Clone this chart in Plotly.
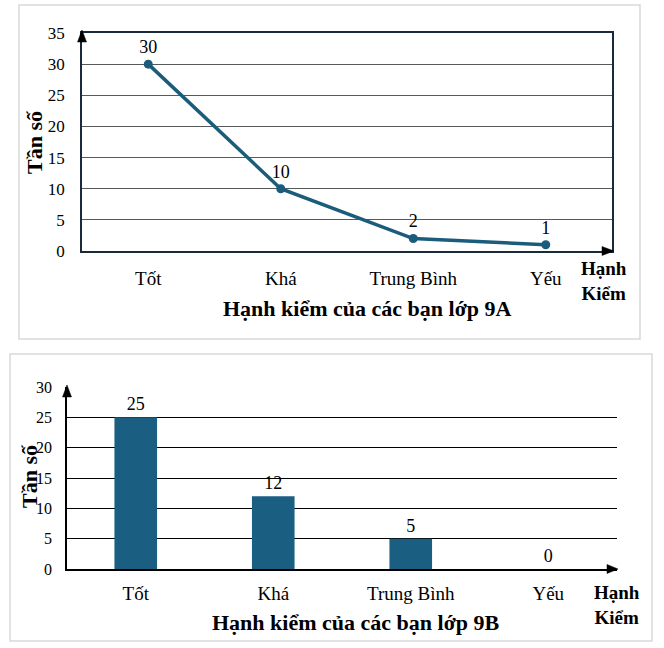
import plotly.graph_objects as go

W, H = 664, 648

categories = ["Tốt", "Khá", "Trung Bình", "Yếu"]
values_9a = [30, 10, 2, 1]
values_9b = [25, 12, 5, 0]
yticks_9a = [0, 5, 10, 15, 20, 25, 30, 35]
yticks_9b = [0, 5, 10, 15, 20, 25, 30]

title_9a = "Hạnh kiểm của các bạn lớp 9A"
title_9b = "Hạnh kiểm của các bạn lớp 9B"
ytitle = "Tần số"
xside = "Hạnh<br>Kiểm"

FONT = "Liberation Serif"
LINE_C = "#1b5c7b"
BAR_C = "#1a5f82"


def px(x):
    return x / W


def py(y):
    return 1 - y / H


fig = go.Figure()

fig.add_trace(go.Scatter(
    x=categories, y=values_9a, xaxis="x", yaxis="y",
    mode="lines+markers+text", text=[str(v) for v in values_9a],
    textposition="top center",
    textfont=dict(family=FONT, size=18, color="#000"),
    line=dict(color=LINE_C, width=3.5),
    marker=dict(color=LINE_C, size=9),
    cliponaxis=False, showlegend=False,
))

fig.add_trace(go.Bar(
    x=categories, y=values_9b, xaxis="x2", yaxis="y2",
    marker=dict(color=BAR_C, line=dict(width=0)),
    width=0.31, text=[str(v) for v in values_9b], textposition="outside",
    textfont=dict(family=FONT, size=18, color="#000"),
    cliponaxis=False, showlegend=False,
))

shapes = [
    dict(type="rect", xref="paper", yref="paper",
         x0=px(19), x1=px(640), y0=py(339), y1=py(5),
         line=dict(color="#d9d9d9", width=1.5), layer="below"),
    dict(type="rect", xref="paper", yref="paper",
         x0=px(10), x1=px(652), y0=py(641), y1=py(354),
         line=dict(color="#d9d9d9", width=1.5), layer="below"),
]


def tri(points, color):
    d = "M " + " L ".join(f"{px(a)},{py(b)}" for a, b in points) + " Z"
    return dict(type="path", xref="paper", yref="paper", path=d,
                fillcolor=color, line=dict(color=color, width=0.5))


shapes += [
    tri([(82, 30), (77.5, 42), (86.5, 42)], "#000"),
    tri([(614, 251), (602, 246.5), (602, 255.5)], "#000"),
    tri([(67, 385), (62.5, 397), (71.5, 397)], "#000"),
    tri([(618, 569), (607, 564.5), (607, 573.5)], "#000"),
]


def ann(text, x, y, size, angle=0):
    return dict(text=text, x=px(x), y=py(y), xref="paper", yref="paper",
                xanchor="center", yanchor="middle", showarrow=False,
                textangle=angle, align="center",
                font=dict(family=FONT, size=size, color="#000"))


annotations = [
    ann(f"<b>{title_9a}</b>", 367, 308, 22),
    ann(f"<b>{xside}</b>", 604, 281, 19),
    ann(f"<b>{ytitle}</b>", 35, 142, 22, -90),
    ann(f"<b>{title_9b}</b>", 356, 622, 22),
    ann(f"<b>{xside}</b>", 617, 605, 19),
    ann(f"<b>{ytitle}</b>", 29, 476, 22, -90),
]

fig.update_layout(
    width=W, height=H, margin=dict(l=0, r=0, t=0, b=0, autoexpand=False),
    autosize=False,
    paper_bgcolor="white", plot_bgcolor="white",
    font=dict(family=FONT, color="#000"),
    shapes=shapes, annotations=annotations,
    xaxis=dict(domain=[px(82), px(612)], anchor="y", type="category",
               range=[-0.5, 3.5], showgrid=False, showline=True, automargin=False,
               linecolor="#1a2a3a", linewidth=1.5, mirror=True, ticks="",
               ticklabelstandoff=9, tickfont=dict(family=FONT, size=19)),
    yaxis=dict(domain=[py(251), py(33)], anchor="x", range=[0, 35], automargin=False,
               tickvals=yticks_9a, showgrid=True, gridcolor="#595959", gridwidth=1,
               showline=True, linecolor="#1a2a3a", linewidth=1.5, mirror=True,
               ticks="", ticklabelstandoff=12, zeroline=False,
               tickfont=dict(family=FONT, size=17)),
    xaxis2=dict(domain=[px(67), px(617)], anchor="y2", type="category",
                range=[-0.5, 3.5], showgrid=False, showline=True, automargin=False,
                linecolor="#000", linewidth=1.5, ticks="",
                ticklabelstandoff=6, tickfont=dict(family=FONT, size=19)),
    yaxis2=dict(domain=[py(569), py(387)], anchor="x2", range=[0, 30], automargin=False,
                tickvals=yticks_9b, showgrid=True, gridcolor="#000", gridwidth=1.2,
                showline=True, linecolor="#000", linewidth=1.5,
                ticks="", ticklabelstandoff=10, zeroline=False,
                tickfont=dict(family=FONT, size=16)),
)

fig.write_html("out.html")
